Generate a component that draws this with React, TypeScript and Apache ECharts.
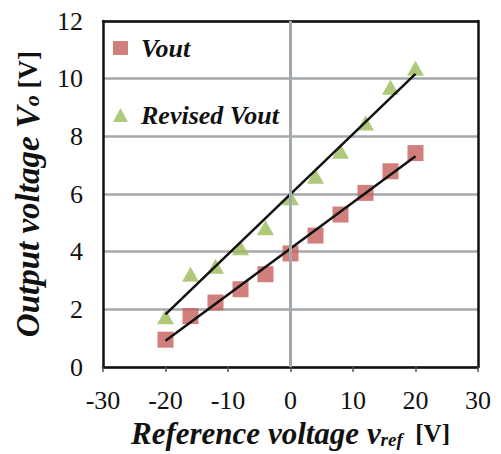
import React, { useEffect, useRef } from "react";
import * as echarts from "echarts";

const xRef = [-20, -16, -12, -8, -4, 0, 4, 8, 12, 16, 20];
const vout = [0.95, 1.77, 2.24, 2.7, 3.22, 3.94, 4.56, 5.29, 6.04, 6.79, 7.42];
const revisedVout = [1.75, 3.22, 3.5, 4.14, 4.83, 5.87, 6.62, 7.48, 8.46, 9.7, 10.36];
const trendX = [-20, 20];
const voutTrend = [0.91, 7.31];
const revisedTrend = [1.83, 10.17];

const RED = "#c55f5b";
const GREEN = "#9bbb59";
const GRID = "#a3a8ad";
const FONT = "Liberation Serif";
const BORDER = "#111";
const INK = "#111";

export default function App() {
  const ref = useRef<HTMLDivElement>(null);
  useEffect(() => {
    const chart = echarts.init(ref.current!, null, { renderer: "svg" });
    const pts = (ys: number[]) => xRef.map((x, i) => [x, ys[i]]);
    const tr = (ys: number[]) => trendX.map((x, i) => [x, ys[i]]);
    const frameAxis = {
      type: "value",
      axisLabel: { show: false },
      axisTick: { show: false },
      splitLine: { show: false },
      axisLine: { show: true, onZero: false, lineStyle: { color: BORDER, width: 2.5 } },
    };
    const bi = (size: number, extra: any = {}) => ({
      fontFamily: FONT, fontSize: size, fontWeight: "bold", fontStyle: "italic", color: INK, ...extra,
    });
    chart.setOption({
      animation: false,
      grid: { left: 103, right: 23, top: 21, bottom: 86 },
      legend: {
        orient: "vertical",
        left: 108,
        top: 30,
        itemGap: 41,
        itemWidth: 15,
        itemHeight: 14,
        textStyle: bi(26, { padding: [0, 0, 0, 8] }),
        data: [
          { name: "Vout", icon: "rect" },
          { name: "Revised Vout", icon: "triangle" },
        ],
      },
      xAxis: [
        {
          type: "value",
          min: -30,
          max: 30,
          interval: 10,
          axisLine: { show: true, onZero: false, lineStyle: { color: BORDER, width: 2.5 } },
          axisTick: { show: true, length: 5, lineStyle: { color: "#555", width: 1.5 } },
          splitLine: { show: false },
          axisLabel: { fontFamily: FONT, fontSize: 26, color: INK, margin: 20 },
          name: "{b|Reference voltage v}{s|ref}{n|  [V]}",
          nameLocation: "middle",
          nameGap: 48,
          nameTextStyle: {
            rich: {
              b: bi(31),
              s: bi(19, { padding: [11, 0, 0, 0] }),
              n: { fontFamily: FONT, fontSize: 25, fontWeight: "bold", color: INK },
            },
          },
        },
        { ...frameAxis, position: "top", min: -30, max: 30 },
      ],
      yAxis: [
        {
          type: "value",
          min: 0,
          max: 12,
          interval: 2,
          axisLine: { show: true, onZero: false, lineStyle: { color: BORDER, width: 2.5 } },
          axisTick: { show: false },
          splitLine: { show: true, lineStyle: { color: GRID, width: 2.5 } },
          axisLabel: { fontFamily: FONT, fontSize: 26, color: INK, margin: 20 },
          name: "{b|Output voltage V}{s|o}{n| [V]}",
          nameLocation: "middle",
          nameGap: 59,
          nameTextStyle: {
            rich: {
              b: bi(33),
              s: bi(22, { padding: [8, 0, 0, 0] }),
              n: { fontFamily: FONT, fontSize: 27, fontWeight: "bold", color: INK },
            },
          },
        },
        { ...frameAxis, position: "right", min: 0, max: 12 },
      ],
      series: [
        {
          name: "zero",
          type: "line",
          data: [],
          silent: true,
          markLine: {
            silent: true,
            symbol: "none",
            label: { show: false },
            lineStyle: { color: GRID, width: 3, type: "solid" },
            data: [{ xAxis: 0 }],
          },
        },
        { name: "Vout", type: "scatter", symbol: "rect", symbolSize: 16, itemStyle: { color: RED }, data: pts(vout), z: 3 },
        { name: "Revised Vout", type: "scatter", symbol: "triangle", symbolSize: [17, 15], itemStyle: { color: GREEN }, data: pts(revisedVout), z: 3 },
        { name: "voutTrend", type: "line", data: tr(voutTrend), symbol: "none", lineStyle: { color: "#111", width: 2.5 }, z: 4 },
        { name: "revisedTrend", type: "line", data: tr(revisedTrend), symbol: "none", lineStyle: { color: "#111", width: 2.5 }, z: 4 },
      ],
    });
    return () => chart.dispose();
  }, []);
  return <div ref={ref} style={{ width: 501, height: 454, position: "absolute", left: 0, top: 0 }} />;
}
